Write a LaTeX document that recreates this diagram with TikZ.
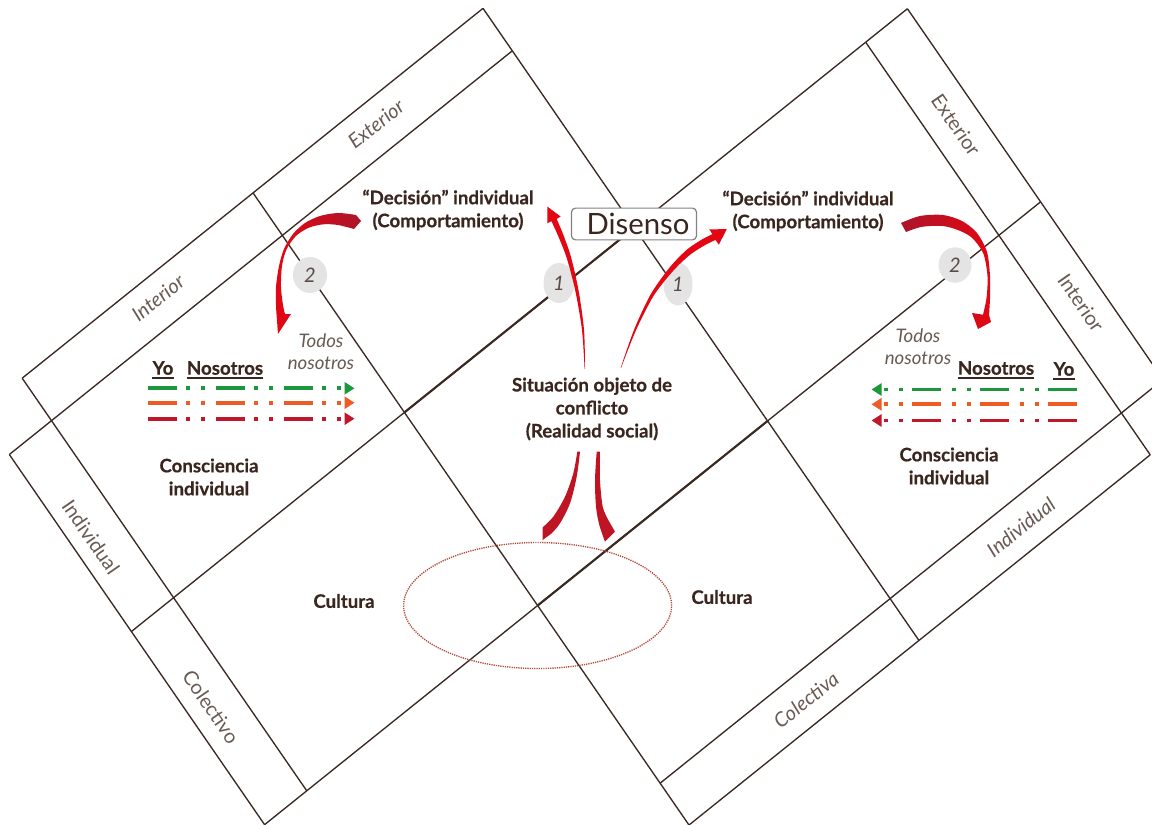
\documentclass[tikz,border=0pt]{standalone}
\usepackage{fontspec}
\setmainfont{Lato}[BoldFeatures={FakeBold=0.5}]
\usetikzlibrary{arrows.meta,shapes.geometric}

\definecolor{gridcol}{RGB}{58,40,34}
\definecolor{txtcol}{RGB}{58,38,30}
\definecolor{softcol}{RGB}{105,90,84}
\definecolor{numcol}{RGB}{90,75,70}
\definecolor{discfill}{RGB}{228,228,228}
\definecolor{boxline}{RGB}{130,130,130}
\definecolor{brightred}{RGB}{227,6,19}
\definecolor{deepred}{RGB}{172,22,42}
\definecolor{swishred}{RGB}{190,20,36}
\definecolor{ovalcol}{RGB}{178,68,50}
\definecolor{yogreen}{RGB}{30,150,60}
\definecolor{yoorange}{RGB}{236,92,36}
\definecolor{yored}{RGB}{192,24,43}

\begin{document}
\begin{tikzpicture}[x=0.75pt,y=-0.75pt,
  gridline/.style={draw=gridcol,line width=1pt},
  sharedline/.style={draw=gridcol,line width=1.6pt},
  quad/.style={font=\fontsize{14}{17.25}\selectfont\bfseries,text=txtcol,align=center,inner sep=0pt},
  todos/.style={font=\fontsize{14}{16.5}\selectfont\itshape,text=softcol,align=center,inner sep=0pt},
  strip/.style={font=\fontsize{15}{17}\selectfont,text=softcol,inner sep=0pt},
  stripit/.style={font=\fontsize{15}{17}\selectfont\itshape,text=softcol,inner sep=0pt},
  disc/.style={ellipse,fill=discfill,inner sep=0pt,font=\fontsize{15}{17}\selectfont\itshape,text=numcol},
  underbar/.style={draw=txtcol,line width=1.3pt},
  yoarrow/.style={line width=2.8pt,
    dash pattern=on 21.75pt off 7.1pt on 2.6pt off 8.6pt on 2.6pt off 8.25pt,
    -{Triangle[length=7.5pt,width=9pt]}},
]
\useasboundingbox (0,0) rectangle (1152,824);
\fill[white] (0,0) rectangle (1152,824);
\clip (0,0) rectangle (1152,824);

% lattice points: c = y + 0.8026 x (up-right lines), d = y - 1.45 x (down-right lines)
\foreach \cv/\cn in {396/a,462/b,737/c,1037/d,1313/e,1378/f}{
  \foreach \dv/\dn in {441/p,346/q,-174/r,-692/s,-1213/t,-1307/u}{
    \pgfmathsetmacro\px{(\cv-(\dv))/2.2526}
    \pgfmathsetmacro\py{1.45*\px+(\dv)}
    \coordinate (\cn\dn) at (\px,\py);
  }
}

% up-right lines
\draw[gridline] (aq) -- (as);
\draw[gridline] (bp) -- (bs);
\draw[gridline] (cp) -- (cu);
\draw[gridline] (dp) -- (du);
\draw[gridline] (er) -- (eu);
\draw[gridline] (fr) -- (ft);
% down-right lines
\draw[gridline] (bp) -- (dp);
\draw[gridline] (aq) -- (dq);
\draw[gridline] (ar) -- (fr);
\draw[gridline] (as) -- (fs);
\draw[gridline] (ct) -- (ft);
\draw[gridline] (cu) -- (eu);
% edges shared by both squares
\draw[sharedline] (cr) -- (cs);
\draw[sharedline] (dr) -- (ds);

% dotted oval round the common corner
\draw[ovalcol,line width=1pt,dash pattern=on 0.9pt off 0.8pt]
  (dr) ellipse [x radius=100.5pt, y radius=47.25pt];

% numbered discs
\node[disc,minimum width=25.5pt,minimum height=27pt] (twoL) at (310,275) {2};
\node[disc,minimum width=23.25pt,minimum height=30pt] (oneL) at (559,283) {1};
\node[disc,minimum width=21.75pt,minimum height=32pt] (oneR) at (678,284) {1};
\node[disc,minimum width=24.75pt,minimum height=26.5pt] (twoR) at (955,265) {2};

% label box
\node[draw=boxline,fill=white,line width=0.9pt,rounded corners=3pt,
      minimum width=93.75pt,minimum height=23.8pt,inner sep=0pt,
      font=\fontsize{22}{24}\selectfont,text=txtcol] (dis) at (634,224) {\hspace*{6pt}Disenso};

% swoosh arrow 2, left square
\shade[left color=brightred,right color=deepred]
  plot[smooth] coordinates {(356,215) (338,213) (320,216) (305,223) (293,234) (284,249) (279,266) (276,287) (276,305) (276.5,314)}
  -- (278,334) -- (291,314) --
  plot[smooth] coordinates {(285,314) (283,305) (281,287.3) (281.9,266.6) (286.2,250.1) (295.7,236.2) (308.6,227.8) (323.5,224.3) (338,225) (354,229)}
  -- (361,221) -- cycle;

% swoosh arrow 2, right square
\shade[left color=deepred,right color=brightred]
  plot[smooth] coordinates {(901,223) (920,216) (943,215) (962,221) (977,233) (987,252) (990,276) (990,298) (989,315)}
  -- (991,322) -- (978,329) -- (972,313) --
  plot[smooth] coordinates {(983,314.7) (986.5,298) (987.5,276.2) (983.2,253.2) (971.5,237.4) (957.3,229.8) (941.7,225.9) (921.5,226.9) (906,232)}
  -- cycle;

% arrow 1, left square
\fill[brightred]
  plot[smooth] coordinates {(585,369) (584,329.9) (578.6,290.7) (571.1,257.4) (563.4,235) (556.6,218.9)}
  -- (560.7,216.6) -- (547.3,206.6) -- (547.3,223.4) --
  plot[smooth] coordinates {(551.4,221.1) (558.6,237) (566.9,258.6) (575.4,291.3) (582,330.1) (584.6,369)}
  -- cycle;

% arrow 1, right square
\fill[brightred]
  plot[smooth] coordinates {(621,368) (635.9,330.4) (652.4,297.8) (666.7,278.3) (678.9,264.8) (691.8,253.4) (705.6,244.8) (715.5,239.9)}
  -- (718.8,244.7) -- (726.8,229.1) -- (709.2,229.4) --
  plot[smooth] coordinates {(712.5,234.1) (702.4,239.2) (688.2,248.6) (675.1,261.2) (663.3,275.7) (649.6,296.2) (634.1,329.6) (620.6,368)}
  -- cycle;

% two strokes falling into the oval
\fill[swishred]
  plot[smooth] coordinates {(577.3,451.7) (573.3,473.3) (565,496.7) (553.3,516.7) (542.7,527.3)}
  -- (542.7,540) --
  plot[smooth] coordinates {(551.7,533.3) (560,523.3) (570,503.3) (576.7,476.7) (580,451.7)}
  -- cycle;
\fill[swishred]
  plot[smooth] coordinates {(596.7,451.7) (595,480) (596,506.7) (599.3,525) (605,541.7)}
  -- (615,531.7) --
  plot[smooth] coordinates {(608.3,520) (602.7,506.7) (600,480) (600,451.7)}
  -- cycle;

% dashed Yo / Nosotros arrows
\coordinate (gL0) at (148,388.3);  \coordinate (gL1) at (354.5,388.3);
\coordinate (oL0) at (148,402.7);  \coordinate (oL1) at (354.5,402.7);
\coordinate (rL0) at (148,418.7);  \coordinate (rL1) at (354.5,418.7);
\coordinate (gR0) at (1077,389.5); \coordinate (gR1) at (871.5,389.5);
\coordinate (oR0) at (1077,404.3); \coordinate (oR1) at (871.5,404.3);
\coordinate (rR0) at (1077,420.5); \coordinate (rR1) at (871.5,420.5);
\draw[yoarrow,yogreen] (gL0) -- (gL1);
\draw[yoarrow,yoorange] (oL0) -- (oL1);
\draw[yoarrow,yored] (rL0) -- (rL1);
\draw[yoarrow,yogreen] (gR0) -- (gR1);
\draw[yoarrow,yoorange] (oR0) -- (oR1);
\draw[yoarrow,yored] (rR0) -- (rR1);

% quadrant texts
\node[quad] (decL) at (448,210) {“Decisión” individual\\(Comportamiento)};
\node[quad] (decR) at (808,211) {“Decisión” individual\\(Comportamiento)};
\node[quad] (sit) at (592,409) {Situación objeto de\\conflicto\\(Realidad social)};
\node[quad] (conL) at (209,477) {Consciencia\\individual};
\node[quad] (conR) at (949,466) {Consciencia\\individual};
\node[quad] (culL) at (344,601) {Cultura};
\node[quad] (culR) at (722,597) {Cultura};

% Yo / Nosotros headings, underlined
\node[quad] (yoL) at (163,368) {Yo};
\node[quad] (nosL) at (225,368) {Nosotros};
\node[quad] (nosR) at (996,368) {Nosotros};
\node[quad] (yoR) at (1064,369) {Yo};
\foreach \n in {yoL,nosL,nosR,yoR}{
  \draw[underbar] ([yshift=-2.2pt]\n.south west) -- ([yshift=-2.2pt]\n.south east);
}

\node[todos] (todL) at (321,352) {Todos\\nosotros};
\node[todos] (todR) at (918,347) {Todos\\nosotros};

% strip labels
\node[stripit,rotate=38.7] (extL) at (376,124) {Exterior};
\node[stripit,rotate=38.7] (intL) at (158,298) {Interior};
\node[strip,rotate=-55.4] (indL) at (91,537) {Individual};
\node[strip,rotate=-55.4] (colL) at (211,707) {Colectivo};
\node[strip,rotate=-55.4] (extR) at (956,125) {Exterior};
\node[strip,rotate=-55.4] (intR) at (1081,303) {Interior};
\node[stripit,rotate=38.7] (indR) at (1021,527) {Individual};
\node[stripit,rotate=38.7] (colR) at (806,700) {Colectiva};
\end{tikzpicture}
\end{document}
